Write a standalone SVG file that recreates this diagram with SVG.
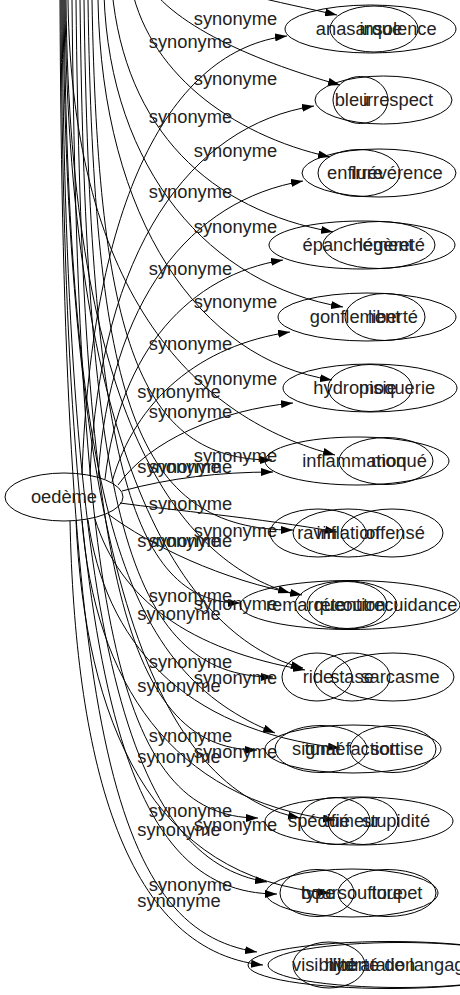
<svg xmlns="http://www.w3.org/2000/svg" width="460" height="995" viewBox="0 0 460 995">
<style>
.e{fill:none;stroke:#000;stroke-width:1}
.t{font-family:"Liberation Sans",Arial,sans-serif;font-size:18.3px;fill:#222;text-anchor:middle}
.c{fill:none;stroke:#000;stroke-width:1;marker-end:url(#ah)}
</style>
<defs>
<marker id="ah" markerWidth="12" markerHeight="8" refX="12" refY="4" orient="auto" markerUnits="userSpaceOnUse"><path d="M0,0 L12,4 L0,8 z" fill="#000"/></marker>
</defs>
<rect width="460" height="995" fill="#fff"/>
<g id="connectors">
<!-- oedeme edges -->
<path class="c" d="M82,474 C92,200 170,50 287,36"/>
<path class="c" d="M90,475 C100,250 190,125 314,106"/>
<path class="c" d="M98,477 C110,300 190,200 303,181"/>
<path class="c" d="M105,479 C120,350 190,275 283,260"/>
<path class="c" d="M112,482 C135,400 200,345 290,332"/>
<path class="c" d="M118,485 C150,440 220,410 293,403"/>
<path class="c" d="M122,491 C170,478 220,472 273,472"/>
<path class="c" d="M120,503 C170,510 260,518 337,532"/>
<path class="c" d="M108,514 C150,545 220,580 302,595"/>
<path class="c" d="M95,519 C120,600 190,650 305,670"/>
<path class="c" d="M88,520 C105,640 180,730 340,748"/>
<path class="c" d="M82,521 C95,680 170,800 335,820"/>
<path class="c" d="M76,521 C85,720 150,880 330,893"/>
<path class="c" d="M70,521 C75,750 120,950 263,965"/>
<!-- upper graph edges -->
<path class="c" d="M150,-40 C210,-10 280,2 337,15"/>
<path class="c" d="M140,-30 C160,20 250,60 340,85"/>
<path class="c" d="M130,-20 C145,70 230,135 330,157"/>
<path class="c" d="M112,-10 C125,130 210,210 333,232"/>
<path class="c" d="M104,-5 C110,170 210,285 343,307"/>
<path class="c" d="M98,0 C102,220 200,360 332,380"/>
<path class="c" d="M92,0 C98,340 140,460 272,460"/>
<path class="c" d="M88,0 C94,400 135,530 293,530"/>
<path class="c" d="M84,0 C90,450 130,603 240,603"/>
<path class="c" d="M80,0 C86,500 125,677 273,677"/>
<path class="c" d="M76,0 C82,550 120,750 257,750"/>
<path class="c" d="M72,0 C78,610 115,818 258,818"/>
<!-- third graph edges -->
<path class="c" d="M68,0 C72,300 200,420 335,455"/>
<path class="c" d="M66,0 C70,420 180,560 290,593"/>
<path class="c" d="M65,0 C69,470 190,640 303,668"/>
<path class="c" d="M64,0 C69,513 125,673 275,733"/>
<path class="c" d="M63,0 C67,580 160,790 300,818"/>
<path class="c" d="M62,0 C66,650 130,860 267,882"/>
<path class="c" d="M61,0 C64,680 120,894 277,894"/>
<path class="c" d="M60,0 C63,720 110,930 257,952"/>
<!-- labels -->
<g class="t">
<text x="235.5" y="25">synonyme</text>
<text x="235.5" y="85">synonyme</text>
<text x="235.5" y="157">synonyme</text>
<text x="235.5" y="233">synonyme</text>
<text x="235.5" y="308">synonyme</text>
<text x="235.5" y="385">synonyme</text>
<text x="235.5" y="462">synonyme</text>
<text x="235.5" y="537">synonyme</text>
<text x="235.5" y="610">synonyme</text>
<text x="235.5" y="684">synonyme</text>
<text x="235.5" y="758">synonyme</text>
<text x="235.5" y="831">synonyme</text>
<text x="190.5" y="48">synonyme</text>
<text x="190.5" y="123">synonyme</text>
<text x="190.5" y="198">synonyme</text>
<text x="190.5" y="275">synonyme</text>
<text x="190.5" y="350">synonyme</text>
<text x="190.5" y="418">synonyme</text>
<text x="190.5" y="473">synonyme</text>
<text x="190.5" y="510">synonyme</text>
<text x="190.5" y="547">synonyme</text>
<text x="190.5" y="602">synonyme</text>
<text x="190.5" y="668">synonyme</text>
<text x="190.5" y="742">synonyme</text>
<text x="190.5" y="817">synonyme</text>
<text x="190.5" y="891">synonyme</text>
<text x="179" y="398">synonyme</text>
<text x="179" y="473">synonyme</text>
<text x="179" y="547">synonyme</text>
<text x="179" y="620">synonyme</text>
<text x="179" y="692">synonyme</text>
<text x="179" y="763">synonyme</text>
<text x="179" y="836">synonyme</text>
<text x="179" y="907">synonyme</text>
</g>
</g>
<g id="n-oedeme"><ellipse class="e" cx="64" cy="497" rx="59" ry="24"/><text class="t" x="64" y="503">oedème</text></g>
<g id="n-anasarque"><ellipse class="e" cx="370.5" cy="29" rx="85.5" ry="24"/><text class="t" x="359" y="35">anasarque</text></g>
<g id="n-insolence"><ellipse class="e" cx="374" cy="29" rx="44" ry="23"/><text class="t" x="398" y="35">insolence</text></g>
<g id="n-bleu"><ellipse class="e" cx="360.5" cy="100" rx="27.5" ry="23.5"/><text class="t" x="352" y="106">bleu</text></g>
<g id="n-irrespect"><ellipse class="e" cx="383.5" cy="100" rx="68.5" ry="24"/><text class="t" x="398" y="106">irrespect</text></g>
<g id="n-enflure"><ellipse class="e" cx="359" cy="173" rx="41" ry="23.5"/><text class="t" x="355" y="179">enflure</text></g>
<g id="n-irreverence"><ellipse class="e" cx="379" cy="173" rx="77" ry="24"/><text class="t" x="397" y="179">irrévérence</text></g>
<g id="n-epanchement"><ellipse class="e" cx="362" cy="245" rx="93" ry="24"/><text class="t" x="358" y="251">épanchement</text></g>
<g id="n-legerete"><ellipse class="e" cx="379" cy="245" rx="56" ry="23.5"/><text class="t" x="392" y="251">légèreté</text></g>
<g id="n-gonflement"><ellipse class="e" cx="367" cy="317" rx="89" ry="24"/><text class="t" x="355" y="323">gonflement</text></g>
<g id="n-liberte"><ellipse class="e" cx="385" cy="317" rx="40" ry="23.5"/><text class="t" x="393" y="323">liberté</text></g>
<g id="n-hydropisie"><ellipse class="e" cx="370" cy="388" rx="87" ry="24"/><text class="t" x="355" y="394">hydropisie</text></g>
<g id="n-moquerie"><ellipse class="e" cx="370" cy="388" rx="42" ry="23.5"/><text class="t" x="397" y="394">moquerie</text></g>
<g id="n-inflammation"><ellipse class="e" cx="357" cy="461" rx="92" ry="24"/><text class="t" x="354" y="467">inflammation</text></g>
<g id="n-moque"><ellipse class="e" cx="386" cy="461" rx="47" ry="23.5"/><text class="t" x="399" y="467">moqué</text></g>
<g id="n-ravin"><ellipse class="e" cx="318" cy="533" rx="48" ry="24"/><text class="t" x="317" y="539">ravin</text></g>
<g id="n-inflation"><ellipse class="e" cx="348" cy="533" rx="55" ry="24"/><text class="t" x="348" y="539">inflation</text></g>
<g id="n-offense"><ellipse class="e" cx="392" cy="533" rx="51" ry="24"/><text class="t" x="395" y="539">offensé</text></g>
<g id="n-outrecuidance"><ellipse class="e" cx="350" cy="605" rx="110" ry="24.5"/><text class="t" x="400" y="611">outrecuidance</text></g>
<g id="n-remarque"><ellipse class="e" cx="346" cy="605" rx="51" ry="24"/><text class="t" x="305" y="611">remarque</text></g>
<g id="n-retention"><ellipse class="e" cx="347" cy="605" rx="40" ry="23.5"/><text class="t" x="350" y="611">rétention</text></g>
<g id="n-ride"><ellipse class="e" cx="317" cy="677" rx="35" ry="24"/><text class="t" x="318" y="683">ride</text></g>
<g id="n-stase"><ellipse class="e" cx="352" cy="677" rx="38" ry="24"/><text class="t" x="352" y="683">stase</text></g>
<g id="n-sarcasme"><ellipse class="e" cx="393" cy="677" rx="61" ry="24"/><text class="t" x="400" y="683">sarcasme</text></g>
<g id="n-tumefaction"><ellipse class="e" cx="353" cy="749" rx="88" ry="24"/><text class="t" x="352" y="755">tuméfaction</text></g>
<g id="n-signal"><ellipse class="e" cx="321" cy="749" rx="46" ry="23.5"/><text class="t" x="316" y="755">signal</text></g>
<g id="n-sottise"><ellipse class="e" cx="393" cy="749" rx="43" ry="23.5"/><text class="t" x="397" y="755">sottise</text></g>
<g id="n-stupidite"><ellipse class="e" cx="359" cy="821" rx="94" ry="24"/><text class="t" x="396" y="827">stupidité</text></g>
<g id="n-specifie"><ellipse class="e" cx="335" cy="821" rx="35" ry="23.5"/><text class="t" x="319" y="827">spécifié</text></g>
<g id="n-tumeur"><ellipse class="e" cx="363" cy="821" rx="35" ry="23.5"/><text class="t" x="352" y="827">tumeur</text></g>
<g id="n-boursouflure"><ellipse class="e" cx="352" cy="893" rx="86" ry="24"/><text class="t" x="352" y="899">boursouflure</text></g>
<g id="n-type"><ellipse class="e" cx="317" cy="893" rx="37" ry="23.5"/><text class="t" x="318" y="899">type</text></g>
<g id="n-toupet"><ellipse class="e" cx="387" cy="893" rx="49" ry="23.5"/><text class="t" x="397" y="899">toupet</text></g>
<g id="n-liberte-de-langage"><ellipse class="e" cx="390" cy="965" rx="142" ry="23.5"/><text class="t" x="402" y="971">liberté de langage</text></g>
<g id="n-hydratation"><ellipse class="e" cx="400" cy="965" rx="132" ry="22.5"/><text class="t" x="370" y="971">hydratation</text></g>
<g id="n-visibilite"><ellipse class="e" cx="329" cy="965" rx="36" ry="23"/><text class="t" x="324" y="971">visibilité</text></g>
</svg>
